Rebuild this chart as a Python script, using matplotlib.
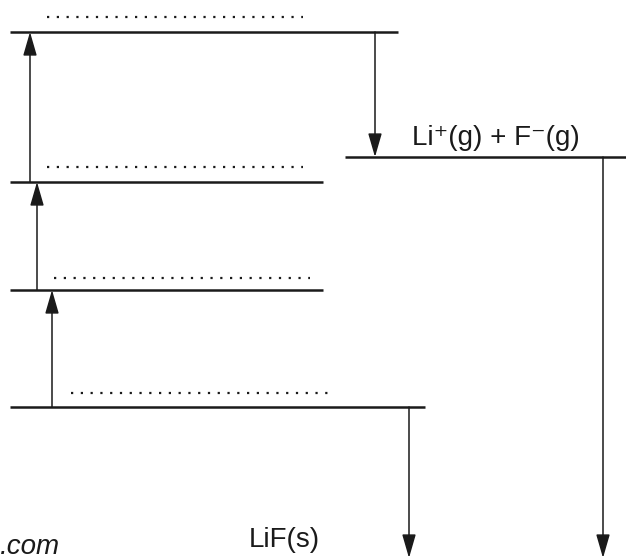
import matplotlib
matplotlib.use("Agg")
import matplotlib.pyplot as plt

# Energy levels (pixel-like diagram units, y grows downward)
level_names = ["Li(g)+F(g) top", "Li+(g) + F-(g)", "level C", "level D", "Li(s)+1/2F2(g)"]
level_y = [32, 157, 182, 290, 407]
level_x0 = [10, 345, 10, 10, 10]
level_x1 = [398, 626, 323, 323, 425]

# dotted blanks above levels
dot_y = [17, 167, 278, 393]
dot_x0 = [47, 47, 54, 71]
dot_x1 = [303, 303, 310, 328]

# arrows: (x, y_start, y_end)
arrow_x = [52, 37, 30, 375, 409, 603]
arrow_from = [407, 290, 182, 32, 407, 157]
arrow_to = [290, 182, 32, 157, 558, 558]

labels = ["Li\u207a(g) + F\u207b(g)", "LiF(s)", ".com"]
label_x = [496, 284, 60]
label_y = [145, 547, 554]

fig = plt.figure(figsize=(6.26, 5.59), dpi=100)
ax = fig.add_axes([0, 0, 1, 1])
ax.set_xlim(0, 626)
ax.set_ylim(559, 0)
ax.axis("off")

for y, x0, x1 in zip(level_y, level_x0, level_x1):
    ax.plot([x0, x1], [y, y], color="#1a1a1a", lw=1.8, solid_capstyle="butt")

for y, x0, x1 in zip(dot_y, dot_x0, dot_x1):
    ax.plot([x0, x1], [y, y], color="#1a1a1a", lw=1.6, linestyle=(0, (1, 3.4)),
            dash_capstyle="butt")

for x, y0, y1 in zip(arrow_x, arrow_from, arrow_to):
    ax.annotate("", xy=(x, y1), xytext=(x, y0),
                arrowprops=dict(arrowstyle="-|>,head_length=1.45,head_width=0.42",
                                mutation_scale=10, color="#1a1a1a", lw=1.1,
                                shrinkA=0, shrinkB=0))

fam = ["Liberation Sans", "DejaVu Sans"]
ax.text(label_x[0], label_y[0], labels[0], ha="center", va="baseline",
        fontsize=20, family=fam, color="#1a1a1a")
ax.text(label_x[1], label_y[1], labels[1], ha="center", va="baseline",
        fontsize=20, family=fam, color="#1a1a1a")
ax.text(label_x[2], label_y[2], labels[2], ha="right", va="baseline",
        fontsize=20, family=fam, style="italic", color="#1a1a1a")

fig.savefig("out.png", dpi=100)
